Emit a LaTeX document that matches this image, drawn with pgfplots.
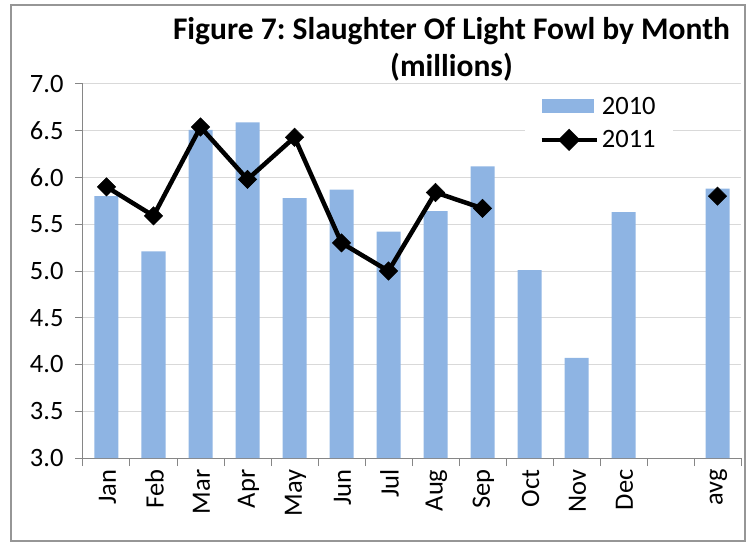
\documentclass[border=0pt]{standalone}
\usepackage{pgfplots}
\pgfplotsset{compat=1.18}
\usepackage{fontspec}
\setmainfont{Carlito}
\frenchspacing
\definecolor{barblue}{RGB}{142,180,227}
\definecolor{axgray}{RGB}{134,134,134}
\definecolor{gridgray}{RGB}{217,217,217}
\definecolor{bordergray}{RGB}{150,150,150}
\begin{document}
\begin{tikzpicture}
\begin{axis}[
 at={(0pt,0pt)}, anchor=south west,
 scale only axis, width=658pt, height=374pt,
 xmin=-0.5, xmax=13.5, ymin=3, ymax=7,
 clip=false,
 axis x line*=bottom, axis y line*=left,
 axis line style={axgray, line width=1pt, -},
 xtick={0,...,13},
 xticklabels={Jan,Feb,Mar,Apr,May,Jun,Jul,Aug,Sep,Oct,Nov,Dec,,avg},
 major x tick style={draw=none},
 minor xtick={-0.5,0.5,...,13.5},
 minor x tick style={axgray, line width=1pt},
 minor tick length=8pt,
 ytick={3,3.5,...,7},
 y tick style={axgray, line width=1pt},
 major tick length=8pt,
 tick align=outside,
 ymajorgrids, grid style={gridgray, line width=1pt},
 /pgf/number format/assume math mode=true,
 yticklabel style={/pgf/number format/.cd, fixed, fixed zerofill, precision=1, /tikz/.cd, font=\fontsize{26.5}{30}\selectfont, xshift=-8pt},
 xticklabel style={rotate=90, anchor=east, font=\fontsize{26.5}{30}\selectfont, yshift=-1pt},
 legend style={at={(0.672,0.985)}, anchor=north west, draw=none, fill=white,
   font=\fontsize{26.5}{30}\selectfont, row sep=9pt, inner xsep=14pt, inner ysep=4pt,
   nodes={inner sep=3pt}, cells={anchor=west}},
]
\addplot[ybar, bar width=24pt, fill=barblue, draw=none,
  legend image code/.code={\fill[barblue] (0pt,-7pt) rectangle (52pt,7pt);}]
 coordinates {(0,5.80) (1,5.21) (2,6.51) (3,6.59) (4,5.78) (5,5.87) (6,5.42) (7,5.64) (8,6.12) (9,5.01) (10,4.07) (11,5.63) (13,5.88)};
\addlegendentry{2010}
\addplot[black, line width=4.5pt, mark=square*, mark size=6.5pt, mark options={solid, rotate=45, line width=0.5pt},
  legend image code/.code={\draw[black, line width=4.5pt] (0pt,0pt) -- (55pt,0pt);
    \fill[black] (27.5pt,0pt) +(-8pt,0pt) -- +(0pt,8pt) -- +(8pt,0pt) -- +(0pt,-8pt) -- cycle;}]
 coordinates {(0,5.90) (1,5.59) (2,6.54) (3,5.98) (4,6.43) (5,5.30) (6,5.00) (7,5.84) (8,5.67)};
\addlegendentry{2011}
\addplot[only marks, black, mark=square*, mark size=6.5pt, mark options={rotate=45}, forget plot]
 coordinates {(13,5.80)};
\node[font=\bfseries\fontsize{31.5}{36}\selectfont, anchor=base] at (rel axis cs:0.56,1) [yshift=44pt] {Figure 7: Slaughter Of Light Fowl by Month};
\node[font=\bfseries\fontsize{31.5}{36}\selectfont, anchor=base] at (rel axis cs:0.56,1) [yshift=7pt] {(millions)};
\end{axis}
\draw[bordergray, line width=1.5pt] (-72pt,-83pt) rectangle (662pt,453pt);
\pgfresetboundingbox
\useasboundingbox (-83pt,-86pt) rectangle (669pt,458pt);
\end{tikzpicture}
\end{document}
